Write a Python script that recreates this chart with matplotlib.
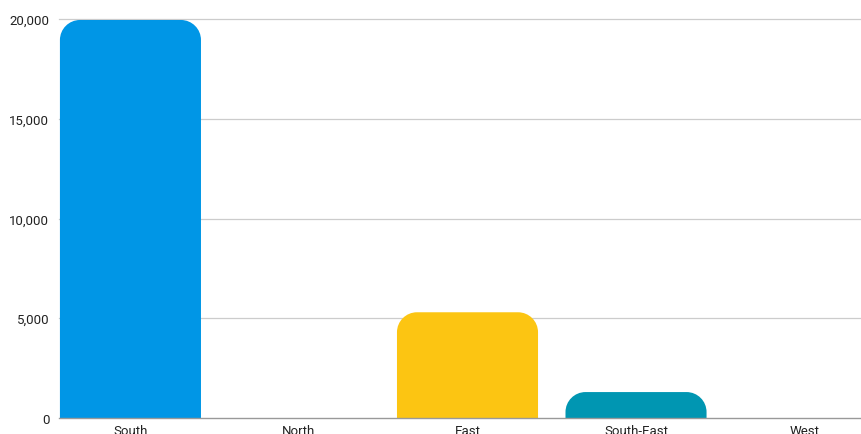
import matplotlib.pyplot as plt
from matplotlib.patches import PathPatch
from matplotlib.path import Path
from matplotlib.ticker import FuncFormatter

regions = ["South", "North", "East", "South-East", "West"]
totals = [19950, 0, 5300, 1300, 0]
bar_colors = ["#0096e6", "#0096e6", "#fcc512", "#0096b2", "#0096e6"]
y_ticks = [0, 5000, 10000, 15000, 20000]

plt.rcParams["font.family"] = ["Roboto", "DejaVu Sans"]

W, H = 861, 435
fig = plt.figure(figsize=(W / 100, H / 100), dpi=100)
ax = fig.add_axes([59 / W, 16 / H, (W - 59) / W, (419 - 20) / H])

xmin, xmax = -0.424, 4.335
ymin, ymax = 0, 20000
ax.set_xlim(xmin, xmax)
ax.set_ylim(ymin, ymax)

# pixel -> data scale, used to keep corner radius round on screen
ax_w_px = W - 59
ax_h_px = 419 - 20
px_x = (xmax - xmin) / ax_w_px
px_y = (ymax - ymin) / ax_h_px

bar_w = 0.837
radius_px = 20
k = 0.5523


def top_rounded_bar(x0, width, height):
    r_px = min(radius_px, height / px_y, width / px_x / 2)
    rx = r_px * px_x
    ry = r_px * px_y
    x1 = x0 + width
    verts = [
        (x0, 0), (x0, height - ry),
        (x0, height - ry + k * ry), (x0 + rx - k * rx, height), (x0 + rx, height),
        (x1 - rx, height),
        (x1 - rx + k * rx, height), (x1, height - ry + k * ry), (x1, height - ry),
        (x1, 0), (x0, 0),
    ]
    codes = [
        Path.MOVETO, Path.LINETO,
        Path.CURVE4, Path.CURVE4, Path.CURVE4,
        Path.LINETO,
        Path.CURVE4, Path.CURVE4, Path.CURVE4,
        Path.LINETO, Path.CLOSEPOLY,
    ]
    return Path(verts, codes)


for i, (val, col) in enumerate(zip(totals, bar_colors)):
    if val <= 0:
        continue
    patch = PathPatch(top_rounded_bar(i - bar_w / 2, bar_w, val),
                      facecolor=col, edgecolor="none", zorder=3)
    ax.add_patch(patch)

for t in y_ticks[1:]:
    ax.axhline(t, color="#cccccc", linewidth=0.9, zorder=1, clip_on=False)
ax.axhline(0, color="#999999", linewidth=1.0, zorder=4, clip_on=False)

for s in ax.spines.values():
    s.set_visible(False)

ax.set_yticks(y_ticks)
ax.yaxis.set_major_formatter(FuncFormatter(lambda v, _: f"{int(v):,}"))
ax.set_xticks(range(len(regions)))
ax.set_xticklabels(regions)
ax.tick_params(axis="both", length=0, labelsize=9.5, labelcolor="#222222")
ax.tick_params(axis="y", pad=7)
ax.tick_params(axis="x", pad=4)

fig.savefig("out.png", dpi=100)
